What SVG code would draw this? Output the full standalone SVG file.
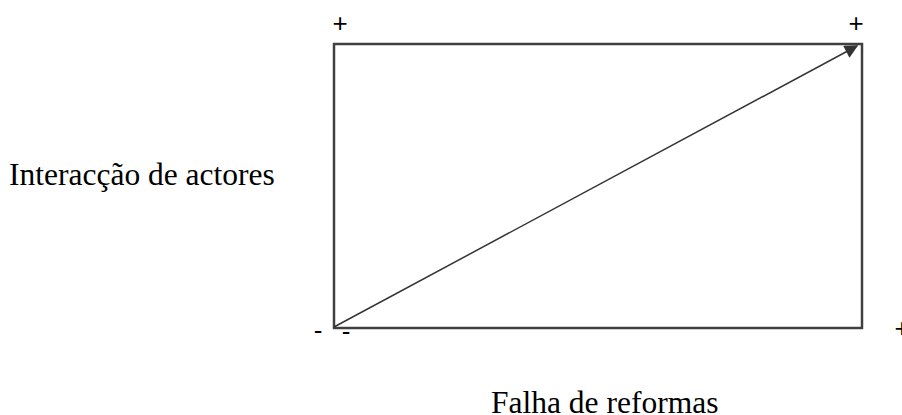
<svg xmlns="http://www.w3.org/2000/svg" width="902" height="415" viewBox="0 0 902 415">
<style>
.lbl{font-family:"Liberation Serif",serif;font-size:31.5px;fill:#000}
.sgn{font-family:"Liberation Sans",sans-serif;font-size:26px;fill:#000}
.box{fill:none;stroke:#404040;stroke-width:2.5}
.arr{stroke:#333;stroke-width:1.5;fill:none}
</style>
<defs>
<marker id="ah" viewBox="0 0 10 10" refX="9" refY="5" markerWidth="10" markerHeight="9" orient="auto" markerUnits="strokeWidth">
<path d="M0,0 L10,5 L0,10 z" fill="#333"/>
</marker>
</defs>
<g id="frame"><rect class="box" x="334" y="44" width="528" height="284"/></g>
<g id="connectors"><line class="arr" x1="334" y1="327" x2="857" y2="46" marker-end="url(#ah)"/></g>
<g id="signs">
<text class="sgn" x="340" y="32" text-anchor="middle">+</text>
<text class="sgn" x="856" y="32" text-anchor="middle">+</text>
<text class="sgn" x="318" y="339" text-anchor="middle">-</text>
<text class="sgn" x="346" y="340" text-anchor="middle">-</text>
<text class="sgn" x="902" y="337" text-anchor="middle">+</text>
</g>
<g id="yLabel"><text class="lbl" x="9" y="185">Interacção de actores</text></g>
<g id="xLabel"><text class="lbl" x="491" y="413">Falha de reformas</text></g>
</svg>
